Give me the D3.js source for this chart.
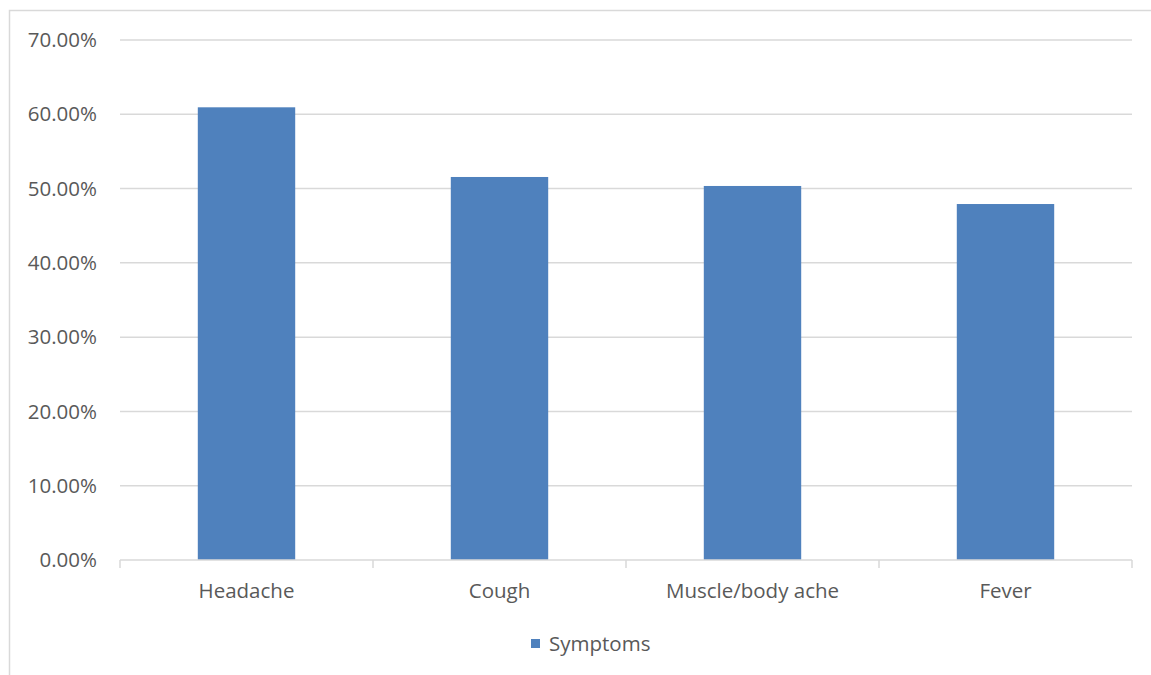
<!DOCTYPE html>
<html>
<head>
<meta charset="utf-8">
<script src="https://cdn.jsdelivr.net/npm/d3@7"></script>
<style>
  html, body { margin: 0; padding: 0; background: #fff; }
  svg { display: block; font-family: "Open Sans", sans-serif; }
</style>
</head>
<body>
<svg id="chart"></svg>
<script>
const categories = ["Headache", "Cough", "Muscle/body ache", "Fever"];
const values = [0.6094, 0.5156, 0.5035, 0.4792];
const yTicks = [0, 0.1, 0.2, 0.3, 0.4, 0.5, 0.6, 0.7];
const seriesName = "Symptoms";

const width = 1151, height = 675;
const margin = { top: 40, right: 19, bottom: 115, left: 120 };
const plotWidth = width - margin.left - margin.right;
const plotHeight = height - margin.top - margin.bottom;
const fontSize = "20.5px";

const svg = d3.select("#chart")
    .attr("width", width)
    .attr("height", height);

// chart border
svg.append("rect")
    .attr("x", 9.5).attr("y", 10.5)
    .attr("width", width + 20).attr("height", height + 20)
    .attr("fill", "none")
    .attr("stroke", "#d9d9d9")
    .attr("stroke-width", 1.5);

const g = svg.append("g")
    .attr("transform", `translate(${margin.left},${margin.top})`);

const x = d3.scaleBand()
    .domain(categories)
    .range([0, plotWidth])
    .paddingInner(0.615)
    .paddingOuter(0.3075);

const y = d3.scaleLinear()
    .domain([0, 0.7])
    .range([plotHeight, 0]);

// gridlines
g.append("g")
    .selectAll("line")
    .data(yTicks.filter(d => d > 0))
    .enter().append("line")
    .attr("x1", 0).attr("x2", plotWidth)
    .attr("y1", d => y(d)).attr("y2", d => y(d))
    .attr("stroke", "#d9d9d9")
    .attr("stroke-width", 1.5);

// y labels
g.append("g")
    .selectAll("text")
    .data(yTicks)
    .enter().append("text")
    .attr("x", -23)
    .attr("y", d => y(d))
    .attr("dy", "0.35em")
    .attr("text-anchor", "end")
    .attr("fill", "#595959")
    .style("font-size", fontSize)
    .text(d => d3.format(".2%")(d));

// bars
g.selectAll("rect.bar")
    .data(values)
    .enter().append("rect")
    .attr("class", "bar")
    .attr("x", (d, i) => x(categories[i]))
    .attr("y", d => y(d))
    .attr("width", x.bandwidth())
    .attr("height", d => plotHeight - y(d))
    .attr("fill", "#4f81bd");

// x axis line + category boundary ticks
const step = x.step();
g.append("line")
    .attr("x1", 0).attr("x2", plotWidth)
    .attr("y1", plotHeight).attr("y2", plotHeight)
    .attr("stroke", "#d9d9d9")
    .attr("stroke-width", 1.5);

g.append("g")
    .selectAll("line")
    .data(d3.range(categories.length + 1))
    .enter().append("line")
    .attr("x1", i => i * step).attr("x2", i => i * step)
    .attr("y1", plotHeight).attr("y2", plotHeight + 8)
    .attr("stroke", "#d9d9d9")
    .attr("stroke-width", 1.5);

g.append("g")
    .selectAll("text")
    .data(categories)
    .enter().append("text")
    .attr("x", d => x(d) + x.bandwidth() / 2)
    .attr("y", plotHeight + 38)
    .attr("text-anchor", "middle")
    .attr("fill", "#595959")
    .style("font-size", fontSize)
    .text(d => d);

// legend
const legend = svg.append("g")
    .attr("transform", "translate(531,639)");
legend.append("rect")
    .attr("width", 9).attr("height", 9)
    .attr("fill", "#4f81bd");
legend.append("text")
    .attr("x", 18)
    .attr("y", 4.5)
    .attr("dy", "0.35em")
    .attr("fill", "#595959")
    .style("font-size", fontSize)
    .text(seriesName);
</script>
</body>
</html>
